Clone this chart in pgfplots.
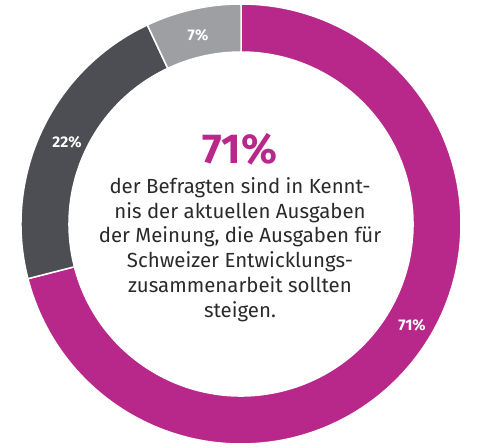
\documentclass[border=0pt]{standalone}
\usepackage{fontspec}
\setmainfont{Fira Sans}
\usepackage{pgfplots}
\usepackage{pgfplotstable}
\pgfplotsset{compat=1.18}
\usetikzlibrary{calc}

\definecolor{magenta71}{HTML}{B8288A}
\definecolor{darkgrey22}{HTML}{4D4E53}
\definecolor{lightgrey7}{HTML}{9E9FA3}
\definecolor{bodytext}{HTML}{2A2A2C}

% Anteile in Prozent, im Uhrzeigersinn ab 12 Uhr
\pgfplotstableread{
share
71
22
7
}\donut

% Ringsegment: Startwinkel, Endwinkel, Farbe
\newcommand{\ringslice}[3]{%
  \fill[#3, draw=white, line width=1.5bp]
    ($(axis cs:241,224)+(#1:220bp)$) arc[start angle=#1, end angle=#2, radius=220bp]
    -- ($(axis cs:241,224)+(#2:172bp)$) arc[start angle=#2, end angle=#1, radius=172bp]
    -- cycle;
}

\begin{document}
\begin{tikzpicture}
\path[use as bounding box] (0,0) rectangle (500bp,448bp);
\pgfplotstablegetelem{0}{share}\of\donut
\pgfmathsetmacro\aA{90-3.6*\pgfplotsretval}
\pgfplotstablegetelem{1}{share}\of\donut
\pgfmathsetmacro\aB{\aA-3.6*\pgfplotsretval}
\pgfplotstablegetelem{2}{share}\of\donut
\pgfmathsetmacro\aC{\aB-3.6*\pgfplotsretval}
\begin{axis}[
    at={(0,0)}, anchor=south west,
    x=1bp, y=1bp,
    xmin=0, xmax=500, ymin=0, ymax=448,
    hide axis, clip=false,
  ]
  \ringslice{90}{\aA}{magenta71}
  \ringslice{\aA}{\aB}{darkgrey22}
  \ringslice{\aB}{\aC}{lightgrey7}

  % Beschriftung der Segmente
  \node[text=white, font=\fontsize{15.5}{15.5}\selectfont\bfseries] at (axis cs:198,413) {7\%};
  \node[text=white, font=\fontsize{15.5}{15.5}\selectfont\bfseries] at (axis cs:67,306) {22\%};
  \node[text=white, font=\fontsize{15.5}{15.5}\selectfont\bfseries] at (axis cs:412,123) {71\%};

  % Text in der Mitte
  \node[anchor=base, text=magenta71, font=\fontsize{42}{42}\selectfont\bfseries] at (axis cs:240,285) {71\%};
  \node[anchor=base, text=bodytext, font=\fontsize{20.5}{20.5}\selectfont] at (axis cs:240,255) {der Befragten sind in Kennt-};
  \node[anchor=base, text=bodytext, font=\fontsize{20.5}{20.5}\selectfont] at (axis cs:240,230) {nis der aktuellen Ausgaben};
  \node[anchor=base, text=bodytext, font=\fontsize{20.5}{20.5}\selectfont] at (axis cs:240,206) {der Meinung, die Ausgaben für};
  \node[anchor=base, text=bodytext, font=\fontsize{20.5}{20.5}\selectfont] at (axis cs:240,180.5) {Schweizer Entwicklungs-};
  \node[anchor=base, text=bodytext, font=\fontsize{20.5}{20.5}\selectfont] at (axis cs:240,156) {zusammenarbeit sollten};
  \node[anchor=base, text=bodytext, font=\fontsize{20.5}{20.5}\selectfont] at (axis cs:240,131) {steigen.};
\end{axis}
\end{tikzpicture}
\end{document}
